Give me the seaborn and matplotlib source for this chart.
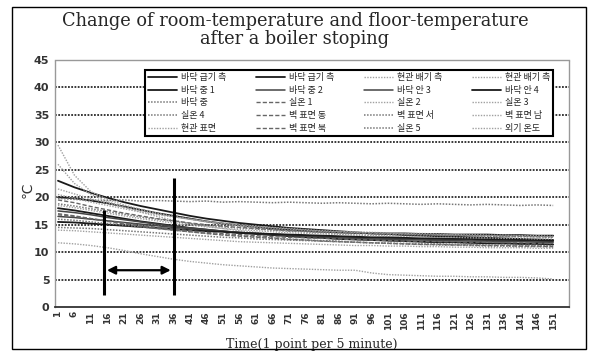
import numpy as np
import pandas as pd
import matplotlib
matplotlib.use("Agg")
import matplotlib.pyplot as plt
import seaborn as sns

# Sample times (one point per 5 minutes, every 5th point kept)
time_points = list(range(1, 152, 5))

series_labels = [
    "바닥 급기 측", "바닥 급기 측", "현관 배기 측", "현관 배기 측",
    "바닥 중 1", "바닥 중 2", "바닥 안 3", "바닥 안 4",
    "바닥 중", "실온 1", "실온 2", "실온 3",
    "실온 4", "벽 표면 동", "벽 표면 서", "벽 표면 남",
    "현관 표면", "벽 표면 북", "실온 5", "외기 온도",
]

floor_supply_a = [23.0, 21.8, 20.8, 19.9, 19.1, 18.4, 17.8, 17.2, 16.6, 16.1, 15.7, 15.3, 15.0, 14.7, 14.4, 14.2,
                  14.0, 13.8, 13.6, 13.4, 13.3, 13.1, 13.0, 12.9, 12.8, 12.7, 12.6, 12.5, 12.4, 12.3, 12.2]
floor_supply_b = [20.0, 19.8, 19.4, 18.9, 18.3, 17.7, 17.1, 16.6, 16.1, 15.6, 15.2, 14.9, 14.6, 14.3, 14.1, 13.9,
                  13.7, 13.6, 13.5, 13.5, 13.4, 13.4, 13.3, 13.3, 13.2, 13.2, 13.2, 13.1, 13.1, 13.0, 13.0]
entry_exhaust_a = [29.5, 24.0, 21.0, 19.6, 18.6, 17.8, 17.1, 16.5, 16.0, 15.5, 15.1, 14.7, 14.4, 14.1, 13.9, 13.7,
                   13.5, 13.3, 13.1, 13.0, 12.9, 12.8, 12.7, 12.6, 12.5, 12.4, 12.3, 12.3, 12.2, 12.1, 12.0]
entry_exhaust_b = [26.0, 22.5, 20.5, 19.2, 18.2, 17.3, 16.5, 15.8, 15.2, 14.7, 14.3, 13.9, 13.6, 13.3, 13.1, 12.9,
                   12.7, 12.5, 12.4, 12.3, 12.1, 12.0, 11.9, 11.8, 11.7, 11.6, 11.6, 11.5, 11.4, 11.4, 11.3]
floor_mid_1 = [18.0, 17.6, 17.1, 16.6, 16.1, 15.6, 15.2, 14.8, 14.4, 14.1, 13.8, 13.5, 13.3, 13.1, 12.9, 12.7,
               12.6, 12.4, 12.3, 12.2, 12.1, 12.0, 11.9, 11.8, 11.8, 11.7, 11.6, 11.6, 11.5, 11.5, 11.4]
floor_mid_2 = [17.5, 17.2, 16.8, 16.3, 15.9, 15.5, 15.1, 14.7, 14.4, 14.1, 13.8, 13.6, 13.4, 13.2, 13.0, 12.9,
               12.8, 12.6, 12.5, 12.4, 12.3, 12.3, 12.2, 12.1, 12.1, 12.0, 12.0, 11.9, 11.9, 11.8, 11.8]
floor_in_3 = [16.5, 16.3, 16.0, 15.7, 15.4, 15.1, 14.8, 14.5, 14.3, 14.0, 13.8, 13.6, 13.4, 13.3, 13.1, 13.0,
              12.9, 12.8, 12.7, 12.6, 12.5, 12.4, 12.4, 12.3, 12.2, 12.2, 12.1, 12.1, 12.0, 12.0, 11.9]
floor_in_4 = [15.5, 15.4, 15.2, 15.0, 14.8, 14.6, 14.4, 14.2, 14.0, 13.8, 13.7, 13.5, 13.4, 13.3, 13.2, 13.1,
              13.0, 12.9, 12.8, 12.7, 12.7, 12.6, 12.5, 12.5, 12.4, 12.4, 12.3, 12.3, 12.2, 12.2, 12.1]
floor_mid = [16.0, 15.8, 15.5, 15.2, 14.9, 14.6, 14.3, 14.0, 13.7, 13.4, 13.2, 13.0, 12.8, 12.6, 12.4, 12.2,
             12.1, 12.0, 11.8, 11.7, 11.6, 11.5, 11.4, 11.3, 11.3, 11.2, 11.1, 11.1, 11.0, 11.0, 10.9]
room_1 = [19.5, 19.0, 18.3, 17.7, 17.1, 16.6, 16.1, 15.7, 15.3, 15.0, 14.7, 14.5, 14.3, 14.1, 13.9, 13.8,
          13.7, 13.6, 13.5, 13.4, 13.3, 13.3, 13.2, 13.1, 13.1, 13.0, 13.0, 12.9, 12.9, 12.8, 12.8]
room_2 = [20.5, 19.8, 19.1, 18.5, 17.9, 17.3, 16.8, 16.4, 16.0, 15.6, 15.3, 15.0, 14.7, 14.5, 14.3, 14.1,
          13.9, 13.8, 13.7, 13.6, 13.5, 13.4, 13.4, 13.3, 13.2, 13.2, 13.1, 13.1, 13.0, 13.0, 12.9]
room_3 = [21.5, 20.6, 19.7, 18.9, 18.2, 17.6, 17.0, 16.5, 16.0, 15.6, 15.2, 14.9, 14.6, 14.4, 14.2, 14.0,
          13.8, 13.7, 13.6, 13.5, 13.4, 13.3, 13.2, 13.2, 13.1, 13.0, 13.0, 12.9, 12.9, 12.8, 12.8]
room_4 = [19.8, 19.6, 19.5, 19.4, 19.5, 19.3, 19.4, 19.3, 19.2, 19.3, 19.1, 19.2, 19.1, 19.0, 19.1, 19.0,
          18.9, 19.0, 18.9, 18.8, 18.9, 18.8, 18.7, 18.8, 18.7, 18.6, 18.7, 18.6, 18.5, 18.6, 18.5]
wall_east = [17.0, 16.6, 16.1, 15.6, 15.1, 14.7, 14.3, 14.0, 13.7, 13.4, 13.1, 12.9, 12.7, 12.5, 12.3, 12.2,
             12.0, 11.9, 11.8, 11.7, 11.6, 11.5, 11.4, 11.4, 11.3, 11.3, 11.2, 11.2, 11.1, 11.1, 11.0]
wall_west = [14.5, 14.4, 14.3, 14.1, 13.9, 13.7, 13.5, 13.3, 13.1, 12.9, 12.7, 12.6, 12.4, 12.3, 12.2, 12.1,
             12.0, 11.9, 11.8, 11.7, 11.6, 11.6, 11.5, 11.5, 11.4, 11.4, 11.3, 11.3, 11.2, 11.2, 11.2]
wall_south = [18.5, 18.1, 17.6, 17.1, 16.6, 16.1, 15.7, 15.3, 14.9, 14.6, 14.3, 14.1, 13.9, 13.7, 13.5, 13.4,
              13.3, 13.2, 13.1, 13.0, 12.9, 12.9, 12.8, 12.7, 12.7, 12.6, 12.6, 12.5, 12.5, 12.4, 12.4]
entry_surface = [11.7, 11.5, 11.2, 10.8, 10.3, 9.7, 9.2, 8.7, 8.3, 8.0, 7.7, 7.5, 7.3, 7.1, 7.0, 6.9,
                 6.8, 6.7, 6.7, 6.2, 5.9, 5.8, 5.7, 5.6, 5.6, 5.5, 5.5, 5.4, 5.4, 5.3, 5.1]
wall_north = [16.8, 16.5, 16.1, 15.7, 15.3, 14.9, 14.5, 14.2, 13.9, 13.6, 13.4, 13.2, 13.0, 12.8, 12.7, 12.6,
              12.5, 12.4, 12.3, 12.2, 12.1, 12.0, 12.0, 11.9, 11.9, 11.8, 11.8, 11.7, 11.7, 11.6, 11.6]
room_5 = [18.8, 18.4, 17.9, 17.4, 16.9, 16.4, 16.0, 15.6, 15.2, 14.9, 14.6, 14.4, 14.2, 14.0, 13.8, 13.7,
          13.6, 13.5, 13.4, 13.3, 13.2, 13.2, 13.1, 13.1, 13.0, 13.0, 12.9, 12.9, 12.8, 12.8, 12.7]
outdoor = [14.0, 13.9, 13.7, 13.5, 13.3, 13.1, 12.9, 12.7, 12.5, 12.3, 12.1, 11.9, 11.8, 11.7, 11.6, 11.5,
           11.4, 11.3, 11.2, 11.2, 11.1, 11.1, 11.0, 11.0, 10.9, 10.9, 10.8, 10.8, 10.8, 10.7, 10.7]

series_values = [
    floor_supply_a, floor_supply_b, entry_exhaust_a, entry_exhaust_b,
    floor_mid_1, floor_mid_2, floor_in_3, floor_in_4,
    floor_mid, room_1, room_2, room_3,
    room_4, wall_east, wall_west, wall_south,
    entry_surface, wall_north, room_5, outdoor,
]

# Interval markers: boiler stop and the delay until the room responds
marker_times = [15, 36]
marker_range = [2.2, 17.7, 23.5]   # bottom, top of first, top of second
arrow_level = 6.7

# Line appearance per series
solid_dark = dict(color="#1a1a1a", ls="-", lw=1.3)
solid_mid = dict(color="#444444", ls="-", lw=1.1)
dot_mid = dict(color="#777777", ls=(0, (1, 1)), lw=1.1)
dot_light = dict(color="#a0a0a0", ls=(0, (1, 1)), lw=1.0)
dash_mid = dict(color="#666666", ls=(0, (3, 1.5)), lw=1.0)
styles = [
    solid_dark, solid_dark, dot_light, dot_light,
    solid_dark, solid_mid, solid_mid, solid_dark,
    dot_mid, dash_mid, dot_light, dot_light,
    dot_mid, dash_mid, dot_mid, dot_light,
    dot_light, dash_mid, dot_mid, dot_light,
]

sns.set_theme(style="white")
plt.rcParams["font.family"] = ["DejaVu Sans"]

fig = plt.figure(figsize=(5.9, 3.52), dpi=100)
ax = fig.add_axes([55 / 590, 1 - 307 / 352, (569 - 55) / 590, (307 - 60) / 352])

handles = []
for label, vals, st in zip(series_labels, series_values, styles):
    df = pd.DataFrame({"t": time_points, "v": vals})
    sns.lineplot(data=df, x="t", y="v", ax=ax, color=st["color"], linestyle=st["ls"],
                 linewidth=st["lw"], label=label, legend=False)
    handles.append(ax.lines[-1])

ax.set_xlim(0.1, 155.8)
ax.set_ylim(0, 45)
ax.set_yticks(range(0, 46, 5))
ax.set_xticks(time_points)
ax.set_xticklabels([str(t) for t in time_points], rotation=90, fontsize=6.5,
                   fontweight="bold", color="#333333")
ax.tick_params(axis="y", labelsize=8, colors="#333333", length=0, pad=4)
ax.tick_params(axis="x", length=0, pad=3)
for lbl in ax.get_yticklabels():
    lbl.set_fontweight("bold")

# Horizontal grid lines
for yv in range(5, 46, 5):
    ax.axhline(yv, color="#2a2a2a", ls=(0, (1, 0.8)), lw=1.3, zorder=0.5)

for side in ["left", "right", "top"]:
    ax.spines[side].set_color("#999999")
    ax.spines[side].set_linestyle((0, (1, 1)))
    ax.spines[side].set_linewidth(1.0)
ax.spines["bottom"].set_color("#333333")
ax.spines["bottom"].set_linestyle((0, (1, 1)))
ax.spines["bottom"].set_linewidth(1.3)

# Stop markers and delay arrow
ax.vlines(marker_times[0], marker_range[0], marker_range[1], color="black", lw=2.2, zorder=5)
ax.vlines(marker_times[1], marker_range[0], marker_range[2], color="black", lw=2.2, zorder=5)
ax.annotate("", xy=(marker_times[1], arrow_level), xytext=(marker_times[0], arrow_level),
            arrowprops=dict(arrowstyle="<|-|>", color="black", lw=1.6,
                            mutation_scale=12), zorder=6)

ax.set_xlabel("Time(1 point per 5 minute)", family="DejaVu Serif", fontsize=9, labelpad=6)
ax.set_ylabel("")
fig.text(27 / 590, 1 - 190 / 352, "℃", rotation=90, fontsize=10, ha="center", va="center",
         color="#333333")

fig.text(0.5, 1 - 21 / 352, "Change of room-temperature and floor-temperature",
         family="DejaVu Serif", fontsize=12.8, ha="center", va="center")
fig.text(0.5, 1 - 39 / 352, "after a boiler stoping",
         family="DejaVu Serif", fontsize=12.8, ha="center", va="center")

# Legend filled row by row, four columns
order = [r * 4 + c for c in range(4) for r in range(5)]
leg = ax.legend([handles[i] for i in order], [series_labels[i] for i in order],
                ncol=4, loc="upper left",
                bbox_to_anchor=((140 - 55) / (569 - 55), 1 - (68 - 60) / (307 - 60),
                                (558 - 140) / (569 - 55), 0.01),
                mode="expand", prop={"family": ["Noto Sans CJK KR", "DejaVu Sans"], "size": 6.5},
                frameon=True, fancybox=False, borderpad=0.35, labelspacing=0.4,
                handlelength=3.2, handletextpad=0.5, columnspacing=0.8)
leg.get_frame().set_edgecolor("black")
leg.get_frame().set_linewidth(1.5)
leg.get_frame().set_facecolor("white")
leg.get_frame().set_alpha(1)

# Outer frame around the figure
fig.add_artist(plt.Rectangle((12 / 590, 1 - 349 / 352), (586 - 12) / 590, (349 - 7) / 352,
                             transform=fig.transFigure, fill=False, ec="black", lw=1.0))

fig.savefig("out.png", dpi=100)
